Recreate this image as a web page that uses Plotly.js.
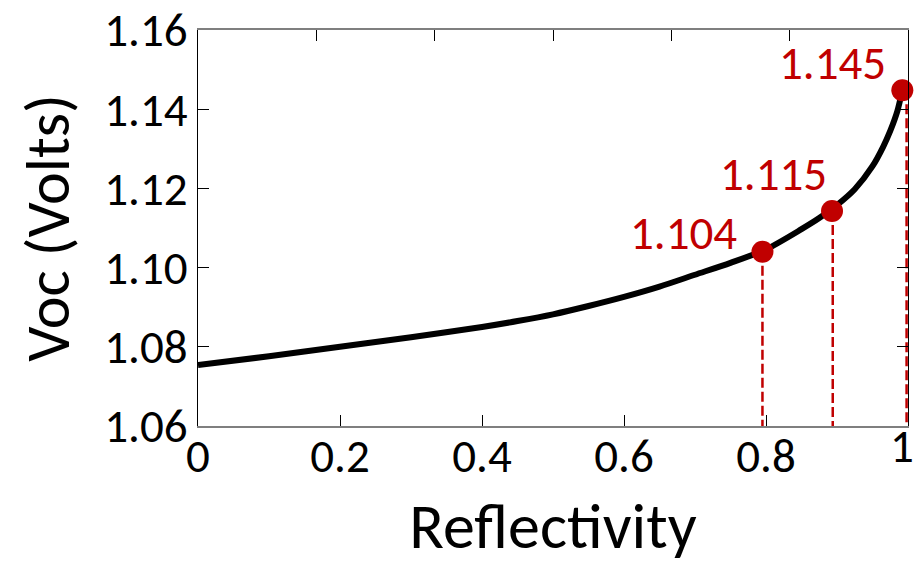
<!DOCTYPE html>
<html>
<head>
<meta charset="utf-8">
<script src="https://cdn.plot.ly/plotly-3.0.1.min.js"></script>
<style>
  html, body { margin: 0; padding: 0; background: #fff; }
  #chart { width: 916px; height: 565px; }
</style>
</head>
<body>
<div id="chart"></div>
<script>
// Curve
const reflectivity = [0, 0.1, 0.2, 0.3, 0.4, 0.45, 0.5, 0.55, 0.6, 0.65, 0.7, 0.75, 0.8, 0.85, 0.875, 0.9, 0.925, 0.95, 0.965, 0.975, 0.985, 0.992];
const voc          = [1.0754, 1.0776, 1.0800, 1.0824, 1.0850, 1.0865, 1.0882, 1.0903, 1.0926, 1.0952, 1.0982, 1.1012, 1.1046, 1.1097, 1.1125, 1.1158, 1.1198, 1.1256, 1.1305, 1.1345, 1.1395, 1.1448];

// Highlighted points
const pointR     = [0.795, 0.893, 0.992];
const pointV     = [1.104, 1.1143, 1.1448];
const pointLabel = ["1.104", "1.115", "1.145"];
const dropR      = [0.795, 0.894, 0.998];

// Axis ticks
const xTicks = [0, 0.2, 0.4, 0.6, 0.8, 1];
const xTickText = ["0", "0.2", "0.4", "0.6", "0.8", ""];
const xEndTick = [1];
const xEndTickText = ["1"];
const yTicks = [1.06, 1.08, 1.10, 1.12, 1.14, 1.16];
const yTickText = ["1.06", "1.08", "1.10", "1.12", "1.14", "1.16"];
const topTicks = [1/6, 2/6, 3/6, 4/6, 5/6];

const RED = "#C00000";
const FONT = "Carlito, Lato, 'Open Sans', sans-serif";

const traces = [];

// dashed drop lines
dropR.forEach((r, i) => {
  traces.push({
    x: [r, r], y: [pointV[i], 1.06],
    mode: "lines", type: "scatter",
    line: { color: RED, width: 2.5, dash: "10px,4px" },
    hoverinfo: "skip", showlegend: false, cliponaxis: false
  });
});

traces.push({
  x: reflectivity, y: voc,
  mode: "lines", type: "scatter",
  line: { color: "#000", width: 6, shape: "spline", smoothing: 0.8 },
  showlegend: false
});

traces.push({
  x: pointR, y: pointV,
  mode: "markers", type: "scatter",
  marker: { color: RED, size: 22, line: { width: 0 } },
  showlegend: false, cliponaxis: false
});

// helper axes (top mirror ticks, end label)
["x2", "x3"].forEach(ax => traces.push({
  x: [0, 1], y: [1.06, 1.06], xaxis: ax, yaxis: "y",
  mode: "lines", line: { width: 0, color: "rgba(0,0,0,0)" },
  hoverinfo: "skip", showlegend: false
}));

const shiftsX = [-23, -3, -14];
const shiftsY = [-12, 6, -4];
const annotations = pointLabel.map((t, i) => ({
  x: pointR[i], y: pointV[i], xref: "x", yref: "y",
  text: t, showarrow: false,
  xanchor: "right", yanchor: "bottom",
  xshift: shiftsX[i], yshift: shiftsY[i],
  font: { family: FONT, size: 47, color: RED }
}));

const tickFont = { family: FONT, size: 47, color: "#000" };

const layout = {
  width: 916, height: 565,
  margin: { l: 198, r: 8, t: 30, b: 139, pad: 0 },
  paper_bgcolor: "#fff", plot_bgcolor: "#fff",
  showlegend: false,
  font: { family: FONT, color: "#000" },
  xaxis: {
    range: [0, 1], tickvals: xTicks, ticktext: xTickText,
    ticks: "inside", ticklen: 11, tickcolor: "#000", tickwidth: 1,
    showline: true, linecolor: "#7f7f7f", linewidth: 2, mirror: true,
    showgrid: false, zeroline: false,
    ticklabelstandoff: -12,
    tickfont: tickFont,
    title: { text: "Reflectivity", font: { family: FONT, size: 64, color: "#000" }, standoff: 26 }
  },
  xaxis2: {
    range: [0, 1], overlaying: "x", side: "top", anchor: "y",
    tickvals: topTicks, showticklabels: false,
    ticks: "inside", ticklen: 11, tickcolor: "#000", tickwidth: 1,
    showline: false, showgrid: false, zeroline: false
  },
  xaxis3: {
    range: [0, 1], overlaying: "x", side: "bottom", anchor: "y",
    tickvals: xEndTick, ticktext: xEndTickText,
    ticks: "", showline: false, showgrid: false, zeroline: false,
    ticklabelstandoff: -12, ticklabelshift: -6,
    tickfont: tickFont
  },
  yaxis: {
    range: [1.06, 1.16], tickvals: yTicks, ticktext: yTickText,
    ticks: "inside", ticklen: 11, tickcolor: "#000", tickwidth: 1,
    showline: true, linecolor: "#000", linewidth: 1, mirror: "ticks",
    showgrid: false, zeroline: false,
    tickfont: tickFont,
    title: { text: "Voc (Volts)", font: { family: FONT, size: 62, color: "#000" }, standoff: 14 }
  },
  annotations: annotations
};

Plotly.newPlot("chart", traces, layout, { displayModeBar: false, staticPlot: true });
</script>
</body>
</html>
